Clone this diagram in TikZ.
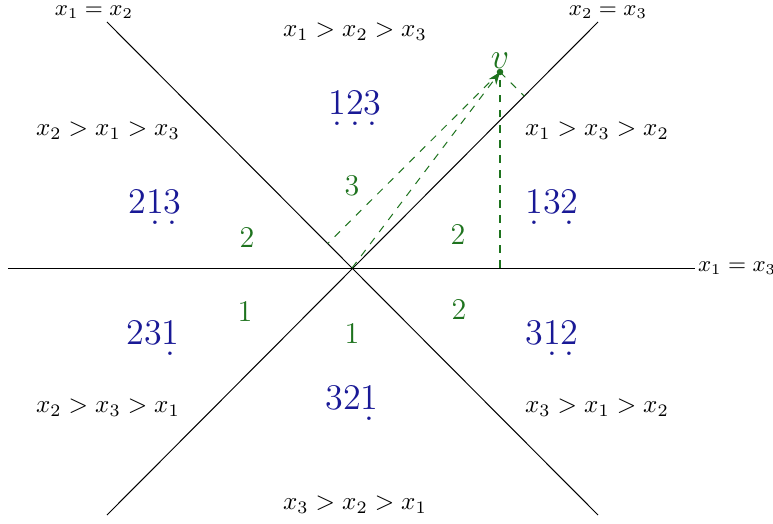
\documentclass[tikz,border=0pt]{standalone}
\usetikzlibrary{arrows.meta,calc}
\definecolor{permBlue}{RGB}{25,25,150}
\definecolor{projGreen}{RGB}{30,115,30}
\newcommand{\ud}[1]{\ooalign{#1\cr\hidewidth\raisebox{-0.72ex}{.}\hidewidth\cr}}
\tikzset{
  wall/.style={black, thin},
  walllabel/.style={font=\small, inner sep=1pt},
  order/.style={font=\normalsize},
  perm/.style={text=permBlue, font=\Large, anchor=base},
  count/.style={text=projGreen, font=\large},
  proj/.style={projGreen, dashed, thin},
  projmain/.style={projGreen, dashed, semithick}
}
\begin{document}
\begin{tikzpicture}[x=0.014cm, y=0.014cm]
  \useasboundingbox (-352,-255) rectangle (421,268);

  % the three walls
  \coordinate (O) at (0,0);
  \coordinate (h1) at (-344,0);
  \coordinate (h2) at (343,0);
  \coordinate (a1) at (-245,246);
  \coordinate (a2) at (246,-247);
  \coordinate (b1) at (246,246);
  \coordinate (b2) at (-245,-247);
  \draw[wall] (h1) -- (h2);
  \draw[wall] (a1) -- (a2);
  \draw[wall] (b1) -- (b2);
  \node[walllabel, anchor=west] (l13) at (h2) {$x_1=x_3$};
  \node[walllabel] (l12) at (-258,256) {$x_1=x_2$};
  \node[walllabel] (l23) at (256,256) {$x_2=x_3$};

  % orders of the chambers
  \node[order] (o123) at (3,236) {$x_1>x_2>x_3$};
  \node[order] (o213) at (-244,137) {$x_2>x_1>x_3$};
  \node[order] (o132) at (245,137) {$x_1>x_3>x_2$};
  \node[order] (o231) at (-244,-140) {$x_2>x_3>x_1$};
  \node[order] (o312) at (245,-140) {$x_3>x_1>x_2$};
  \node[order] (o321) at (3,-237) {$x_3>x_2>x_1$};

  % permutations
  \node[perm] (p123) at (3,154) {\ud{1}\ud{2}\ud{3}};
  \node[perm] (p213) at (-197,55) {2\ud{1}\ud{3}};
  \node[perm] (p132) at (200,55) {\ud{1}3\ud{2}};
  \node[perm] (p231) at (-199,-76) {23\ud{1}};
  \node[perm] (p312) at (200,-76) {3\ud{1}\ud{2}};
  \node[perm] (p321) at (0,-141) {32\ud{1}};

  % counts
  \node[count] (c3) at (0,82) {3};
  \node[count] (c2a) at (-105,31) {2};
  \node[count] (c2b) at (106,34) {2};
  \node[count] (c1a) at (-107,-43) {1};
  \node[count] (c2c) at (107,-41) {2};
  \node[count] (c1b) at (0,-65) {1};

  % the vector v and its projections
  \coordinate (v) at (148,196);
  \node[text=projGreen, font=\Large, inner sep=1pt, anchor=south] (vl) at (v) {$v$};
  \coordinate (q12) at ($(a1)!(v)!(a2)$);
  \coordinate (q23) at ($(b1)!(v)!(b2)$);
  \coordinate (q13) at ($(h1)!(v)!(h2)$);
  \draw[proj] (v) -- (q12);
  \draw[proj] (v) -- (q23);
  \draw[proj, -{Stealth[length=5pt]}] (O) -- (v);
  \draw[projmain] (q13) -- (v);
  \fill[projGreen] (v) circle (1.3pt);
\end{tikzpicture}
\end{document}
